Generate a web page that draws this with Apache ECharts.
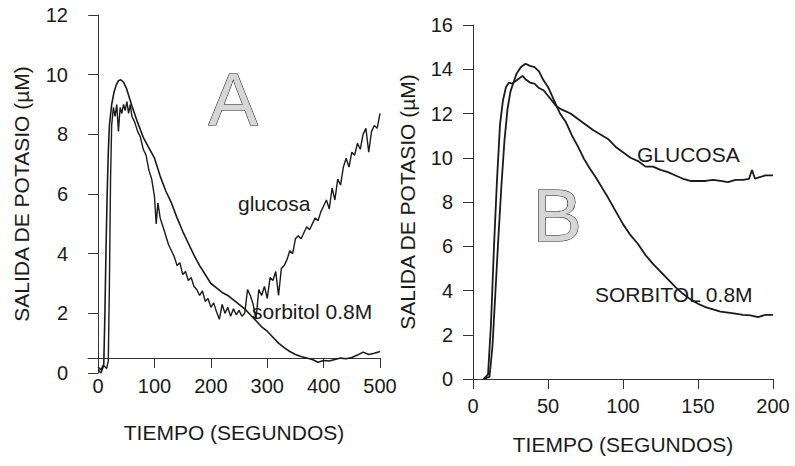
<!DOCTYPE html>
<html>
<head>
<meta charset="utf-8">
<script src="https://cdn.jsdelivr.net/npm/echarts@6/dist/echarts.min.js"></script>
<style>
  html, body { margin: 0; padding: 0; background: #fff; }
  #chart { width: 795px; height: 466px; }
</style>
</head>
<body>
<div id="chart"></div>
<script>
// Panel A: salida de potasio, 0-500 s
const xTicksA = [0, 100, 200, 300, 400, 500];
const yTicksA = [0, 2, 4, 6, 8, 10, 12];

const sorbA_t = [0, 5, 10, 12, 14, 16, 18, 20, 24, 28, 32, 36, 40, 45, 50, 55, 60, 70, 80, 90, 100, 110, 120, 130, 140, 150, 160, 170, 180, 190, 200, 210, 220, 230, 240, 250, 260, 270, 280, 290, 300, 310, 320, 330, 340, 350, 360, 370, 380, 390, 400, 410, 420, 430, 440, 450, 460, 470, 480, 490, 500];
const sorbA_v = [0.2, 0.1, 0.3, 2.0, 4.2, 6.0, 7.4, 8.3, 9.0, 9.4, 9.65, 9.8, 9.83, 9.75, 9.55, 9.25, 8.95, 8.4, 7.9, 7.55, 7.2, 6.6, 6.1, 5.7, 5.2, 4.75, 4.35, 3.95, 3.6, 3.3, 3.0, 2.85, 2.7, 2.6, 2.45, 2.3, 2.15, 1.95, 1.75, 1.55, 1.4, 1.2, 1.0, 0.85, 0.72, 0.62, 0.55, 0.5, 0.45, 0.36, 0.42, 0.4, 0.45, 0.5, 0.48, 0.52, 0.6, 0.7, 0.62, 0.66, 0.72];

const glucA_t = [0, 5, 10, 15, 18, 20, 22, 24, 27, 30, 33, 36, 39, 42, 45, 48, 51, 54, 57, 60, 65, 70, 75, 80, 85, 90, 95, 100, 103, 106, 110, 115, 120, 125, 130, 135, 140, 145, 150, 155, 160, 165, 170, 175, 180, 185, 190, 195, 200, 205, 210, 215, 220, 225, 230, 235, 240, 245, 250, 255, 260, 265, 270, 275, 280, 285, 290, 295, 300, 305, 310, 315, 320, 325, 330, 335, 340, 345, 350, 355, 360, 365, 370, 375, 380, 385, 390, 395, 400, 405, 410, 415, 420, 425, 430, 435, 440, 445, 450, 455, 460, 465, 470, 475, 480, 485, 490, 495, 500];
const glucA_v = [0.1, 0.0, 0.25, 0.15, 0.4, 3.0, 6.5, 8.3, 8.9, 8.6, 9.0, 8.1, 8.9, 8.7, 9.0, 8.8, 9.1, 8.7, 9.0, 8.6, 8.4, 8.1, 7.9, 7.5, 7.3, 6.8, 6.5, 5.9, 5.0, 5.7, 5.2, 4.9, 4.6, 4.3, 4.1, 3.9, 3.6, 3.7, 3.3, 3.4, 3.1, 3.2, 2.9, 2.8, 2.6, 2.75, 2.4, 2.5, 2.2, 2.35, 2.05, 1.8, 2.3, 2.0, 2.2, 1.9, 2.15, 1.95, 2.1, 1.9, 2.0, 2.8, 2.6, 2.3, 1.8, 2.8, 2.6, 2.9, 2.5, 3.2, 3.1, 3.4, 2.6, 3.5, 3.6, 3.8, 4.1, 4.0, 4.5, 4.6, 4.5, 4.7, 4.9, 4.8, 5.0, 5.2, 5.1, 5.4, 5.6, 5.8, 5.5, 6.2, 5.8, 6.5, 6.3, 6.9, 7.2, 6.9, 7.4, 7.3, 7.7, 7.5, 8.0, 8.2, 7.4, 8.1, 8.3, 8.2, 8.7];

// Panel B: 0-200 s
const xTicksB = [0, 50, 100, 150, 200];

const glucB_t = [7, 10, 12, 14, 16, 18, 20, 22, 24, 26, 28, 30, 33, 35, 38, 41, 44, 47, 50, 53, 56, 60, 65, 70, 75, 80, 85, 90, 95, 100, 105, 110, 115, 120, 125, 130, 135, 140, 145, 150, 155, 160, 165, 170, 175, 180, 184, 186, 188, 190, 195, 200];
const glucB_v = [0, 0.2, 2.5, 6.0, 9.0, 11.5, 12.6, 13.2, 13.4, 13.35, 13.45, 13.55, 13.7, 13.55, 13.4, 13.35, 13.15, 13.05, 12.8, 12.55, 12.3, 12.15, 12.0, 11.75, 11.5, 11.25, 11.05, 10.85, 10.5, 10.25, 10.0, 9.85, 9.6, 9.6, 9.45, 9.35, 9.2, 9.05, 8.95, 8.95, 8.95, 9.0, 8.95, 8.9, 9.0, 9.0, 9.05, 9.45, 9.05, 9.1, 9.2, 9.2];

const sorbB_t = [7, 11, 13, 15, 17, 19, 21, 23, 25, 27, 29, 32, 35, 38, 41, 44, 47, 50, 53, 56, 58, 62, 66, 70, 74, 78, 82, 86, 90, 95, 100, 105, 110, 115, 120, 125, 130, 135, 140, 145, 150, 155, 160, 165, 170, 175, 180, 185, 190, 195, 200];
const sorbB_v = [0, 0.1, 1.5, 4.0, 6.5, 8.8, 10.8, 12.2, 13.0, 13.4, 13.8, 14.1, 14.25, 14.15, 14.1, 13.9, 13.5, 13.2, 12.75, 12.3, 12.0, 11.6, 11.0, 10.5, 9.95, 9.5, 9.1, 8.65, 8.2, 7.6, 7.0, 6.5, 6.1, 5.6, 5.2, 4.85, 4.5, 4.15, 3.85, 3.6, 3.4, 3.25, 3.15, 3.05, 3.0, 2.95, 2.9, 2.88, 2.8, 2.9, 2.9];

const zip = (ts, vs) => ts.map((t, i) => [t, vs[i]]);

const FONT = "Liberation Sans";
const INK = "#1a1a1a";

const axisCommon = {
	axisLine: { show: true, lineStyle: { color: "#333", width: 1 } },
	axisTick: { show: true, inside: false, length: 10, lineStyle: { color: "#333" } },
	splitLine: { show: false },
	nameTextStyle: { color: INK, fontFamily: FONT, fontSize: 21 },
};
const labelStyle = { color: INK, fontFamily: FONT, fontSize: 20 };

const lineSeries = (xi, data, width) => ({
	type: "line",
	xAxisIndex: xi,
	yAxisIndex: xi,
	data,
	showSymbol: false,
	smooth: false,
	lineStyle: { color: INK, width },
	silent: true,
	animation: false,
});

const txt = (text, left, top, size) => ({
	type: "text",
	left,
	top,
	style: { text, fill: INK, font: `${size}px "${FONT}"` },
});

const bigLetter = (text, left, top) => ({
	type: "text",
	left,
	top,
	style: {
		text,
		fill: "#d6d6d6",
		stroke: "#111",
		lineWidth: 1,
		font: `74px "${FONT}"`,
	},
});

const chart = echarts.init(document.getElementById("chart"), null, { renderer: "svg" });
chart.setOption({
	backgroundColor: "#fff",
	animation: false,
	grid: [
		{ left: 88, right: 415, top: 15, bottom: 93 },
		{ left: 473, right: 22, top: 25, bottom: 87 },
	],
	xAxis: [
		{
			...axisCommon,
			gridIndex: 0,
			type: "value",
			min: -18,
			max: 500,
			offset: -15,
			name: "TIEMPO (SEGUNDOS)",
			nameLocation: "middle",
			nameGap: 64,
			axisTick: { ...axisCommon.axisTick, customValues: xTicksA },
			axisLabel: { ...labelStyle, margin: 18, customValues: xTicksA },
		},
		{
			...axisCommon,
			gridIndex: 1,
			type: "value",
			min: 0,
			max: 200,
			interval: 50,
			name: "TIEMPO (SEGUNDOS)",
			nameLocation: "middle",
			nameGap: 55,
			axisLabel: { ...labelStyle, margin: 17, customValues: xTicksB },
			axisTick: { ...axisCommon.axisTick, customValues: xTicksB },
		},
	],
	yAxis: [
		{
			...axisCommon,
			gridIndex: 0,
			type: "value",
			min: 0,
			max: 12,
			interval: 2,
			name: "SALIDA DE POTASIO (µM)",
			nameLocation: "middle",
			nameGap: 56,
			axisLabel: { ...labelStyle, margin: 20 },
		},
		{
			...axisCommon,
			gridIndex: 1,
			type: "value",
			min: 0,
			max: 16,
			interval: 2,
			name: "SALIDA DE POTASIO (µM)",
			nameLocation: "middle",
			nameGap: 55,
			axisLabel: { ...labelStyle, margin: 20 },
		},
	],
	series: [
		lineSeries(0, zip(sorbA_t, sorbA_v), 1.6),
		lineSeries(0, zip(glucA_t, glucA_v), 1.4),
		lineSeries(1, zip(glucB_t, glucB_v), 1.8),
		lineSeries(1, zip(sorbB_t, sorbB_v), 1.8),
	],
	graphic: [
		bigLetter("A", 208, 62),
		bigLetter("B", 532, 178),
		txt("glucosa", 238, 193, 21),
		txt("sorbitol 0.8M", 252, 301, 21),
		txt("GLUCOSA", 637, 144, 21),
		txt("SORBITOL 0.8M", 595, 284, 21),
	],
});
</script>
</body>
</html>
